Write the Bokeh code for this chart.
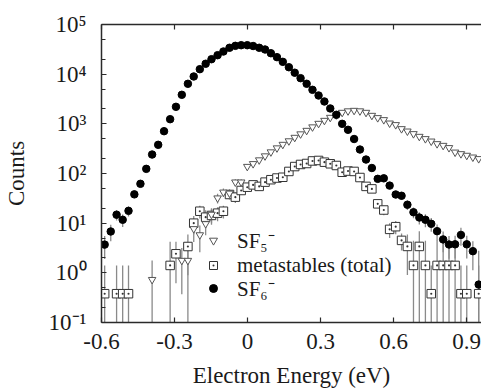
import math
from bokeh.plotting import figure
from bokeh.models import FixedTicker, LinearAxis, Legend, LegendItem, ColumnDataSource, Range1d
from bokeh.embed import file_html
from bokeh.resources import INLINE

nan = float("nan")

energy = [-0.587, -0.562, -0.538, -0.513, -0.489, -0.465, -0.440, -0.416, -0.392, -0.367,
          -0.343, -0.318, -0.294, -0.270, -0.245, -0.221, -0.196, -0.172, -0.148, -0.123,
          -0.099, -0.074, -0.050, -0.026, -0.001, 0.023, 0.048, 0.072, 0.096, 0.121,
          0.145, 0.170, 0.194, 0.218, 0.243, 0.267, 0.292, 0.316, 0.340, 0.365,
          0.389, 0.413, 0.438, 0.462, 0.487, 0.511, 0.535, 0.560, 0.584, 0.609,
          0.633, 0.657, 0.682, 0.706, 0.731, 0.755, 0.779, 0.804, 0.828, 0.853,
          0.877, 0.901, 0.926, 0.950]

sf6_counts = [3.7, 6.8, 14.8, 11.7, 17.7, 38, 62, 124, 241, 378,
              711, 1240, 2200, 3840, 6400, 8980, 12600, 16200, 20000, 24100,
              28600, 34000, 37200, 38300, 38300, 36900, 34000, 31400, 26400, 22000,
              17700, 13800, 10700, 8300, 6400, 4840, 3720, 2820, 2040, 1520,
              1000, 759, 495, 304, 191, 129, 78, 80, 57, 37.8,
              35.6, 23.5, 16.6, 13.0, 11.7, 9.7, 6.9, 4.7, 3.72, 3.75,
              5.8, 3.75, 2.73, 0.58]
sf6_err = [1.8, 2.5, 3.5, 3.3, 4.0, 6, 8, 11, 0, 0,
           0, 0, 0, 0, 0, 0, 0, 0, 0, 0,
           0, 0, 0, 0, 0, 0, 0, 0, 0, 0,
           0, 0, 0, 0, 0, 0, 0, 0, 0, 0,
           0, 0, 0, 0, 0, 0, 0, 0, 0, 6,
           6, 5, 4, 3.6, 3.4, 3.0, 2.5, 2.1, 1.8, 1.8,
           2.3, 1.8, 1.6, 2.2]

sf5_counts = [nan, nan, nan, nan, nan, nan, nan, nan, 0.73, nan,
              nan, nan, nan, 1.77, 1.77, 7.7, 5.8, 9.7, 15, 32,
              42, 40, 67, 67, 138, 157, 187, 225, 271, 326,
              384, 452, 531, 624, 734, 863, 1016, 1167, 1342, 1507,
              1692, 1814, 1856, 1814, 1692, 1472, 1324, 1206, 1030, 957,
              794, 711, 630, 556, 500, 447, 396, 366, 330, 268,
              249, 231, 213, 198]
sf5_err = [0, 0, 0, 0, 0, 0, 0, 0, 1.05, 0,
           0, 0, 0, 1.4, 2.2, 3.5, 3.2, 4.0, 5, 7,
           8, 8, 10, 10, 0, 0, 0, 0, 0, 0,
           0, 0, 0, 0, 0, 0, 0, 0, 0, 0,
           0, 0, 0, 0, 0, 0, 0, 0, 0, 0,
           0, 0, 0, 0, 0, 0, 0, 0, 0, 0,
           0, 0, 0, 0]

meta_counts = [0.38, nan, 0.38, 0.38, 0.38, nan, nan, nan, nan, nan,
               nan, 1.41, 2.42, nan, 3.39, 10, 17.4, 13.2, 14.3, 15.9,
               17.4, 37.8, 33.4, 45.5, 53, 59, 55, 67, 75, 81,
               84, 110, 138, 152, 159, 179, 183, 169, 157, 145,
               106, 112, 110, 83, 55, 49, 24.5, 18.4, 7.5, 8.5,
               4.5, 3.4, 1.41, 3.4, 1.41, 0.38, 1.41, 1.41, 1.41, 1.41,
               0.38, 0.38, nan, 0.38]
meta_err = [1.03, 0, 1.03, 1.03, 1.03, 0, 0, 0, 0, 0,
            0, 2.8, 1.8, 0, 2.5, 4, 5, 5, 5, 5,
            5, 8, 8, 8, 8, 8, 0, 0, 0, 0,
            0, 0, 0, 0, 0, 0, 0, 0, 0, 0,
            0, 0, 0, 0, 0, 0, 4, 4, 2.5, 2.5,
            1.7, 2.5, 3.0, 3.5, 3.0, 1.03, 3.0, 3.0, 3.0, 3.0,
            1.03, 1.03, 0, 1.03]

x_ticks = [-0.6, -0.3, 0.0, 0.3, 0.6, 0.9]
x_tick_labels = ["-0.6", "-0.3", "0", "0.3", "0.6", "0.9"]
y_ticks = [0.1, 1, 10, 100, 1000, 10000, 100000]
y_tick_labels = ["10\u207b\u00b9", "10\u2070", "10\u00b9", "10\u00b2", "10\u00b3", "10\u2074", "10\u2075"]
y_minor_ticks = [0.2, 0.5, 2, 5, 20, 50, 200, 500, 2000, 5000, 20000, 50000]
legend_labels = ["SF\u2085\u207b", "metastables (total)", "SF\u2086\u207b"]
x_label = "Electron Energy (eV)"
y_label = "Counts"

FONT = "Liberation Serif"
AX = "#2a2a2a"
TXT = "#1a1a1a"

p = figure(width=481, height=390, y_axis_type="log",
           x_range=Range1d(-0.6, 0.9615), y_range=Range1d(0.1, 1e5),
           output_backend="svg", toolbar_location=None,
           min_border_left=100, min_border_right=0, min_border_top=24, min_border_bottom=68)
p.outline_line_color = None
p.grid.visible = False
p.background_fill_color = "white"
p.border_fill_color = "white"

# bottom axis
xa = p.xaxis[0]
xa.ticker = FixedTicker(ticks=x_ticks)
xa.major_label_overrides = {t: l for t, l in zip(x_ticks, x_tick_labels)}
xa.axis_label = x_label

# left axis
ya = p.yaxis[0]
ya.ticker = FixedTicker(ticks=y_ticks, minor_ticks=y_minor_ticks)
ya.major_label_overrides = {t: l for t, l in zip(y_ticks, y_tick_labels)}
ya.axis_label = y_label

top = LinearAxis(ticker=FixedTicker(ticks=x_ticks), major_label_text_color=None)
p.add_layout(top, "above")

for ax in [xa, ya, top]:
    ax.axis_line_color = AX
    ax.axis_line_width = 1.5
    ax.major_tick_line_color = AX
    ax.major_tick_line_width = 1.2
    ax.major_tick_in = 5
    ax.major_tick_out = 0
    ax.minor_tick_line_color = AX
    ax.minor_tick_in = 4
    ax.minor_tick_out = 0
    ax.major_label_text_font = FONT
    ax.axis_label_text_font = FONT
    ax.axis_label_text_font_style = "normal"
    ax.axis_label_text_color = TXT
    ax.axis_label_text_font_size = "23px"
for ax in [xa, ya]:
    ax.major_label_text_color = TXT
    ax.major_label_text_font_size = "23px"
xa.minor_tick_line_color = None
top.minor_tick_line_color = None
xa.major_label_standoff = 11
xa.axis_label_standoff = 11
ya.major_label_standoff = 15
ya.axis_label_standoff = 17


def bars(vals, errs):
    xs, lo, hi = [], [], []
    for e, v, s in zip(energy, vals, errs):
        if s > 0 and not math.isnan(v):
            xs.append(e)
            lo.append(v - s if v - s > 0 else 1e-3)
            hi.append(v + s)
    return ColumnDataSource(dict(x=xs, lo=lo, hi=hi))

for vals, errs in [(meta_counts, meta_err), (sf5_counts, sf5_err), (sf6_counts, sf6_err)]:
    p.segment(x0="x", y0="lo", x1="x", y1="hi", source=bars(vals, errs),
              line_color="#8a8a8a", line_width=1.3)

r_meta = p.scatter(energy, meta_counts, marker="square_dot", size=8.5,
                   fill_color="white", line_color="#333333", line_width=1)
r_sf5 = p.scatter(energy, sf5_counts, marker="inverted_triangle", size=7.5,
                  fill_color="white", line_color="#555555", line_width=1)
r_sf6 = p.scatter(energy, sf6_counts, marker="circle", size=7.5,
                  fill_color="black", line_color="black")

# one single-row legend per entry so the rows can sit as tightly as in the original
legend_rows = [(legend_labels[0], r_sf5, 68), (legend_labels[1], r_meta, 44), (legend_labels[2], r_sf6, 20)]
for label, rend, off in legend_rows:
    lg = Legend(items=[LegendItem(label=label, renderers=[rend])],
                location=(102, off), padding=0, margin=0, spacing=0,
                glyph_width=20, glyph_height=26, label_standoff=14,
                label_height=26,
                label_text_font=FONT, label_text_font_size="21px",
                label_text_color=TXT,
                background_fill_alpha=0, border_line_color=None)
    p.add_layout(lg)

open("out.html", "w").write(file_html(p, INLINE))
